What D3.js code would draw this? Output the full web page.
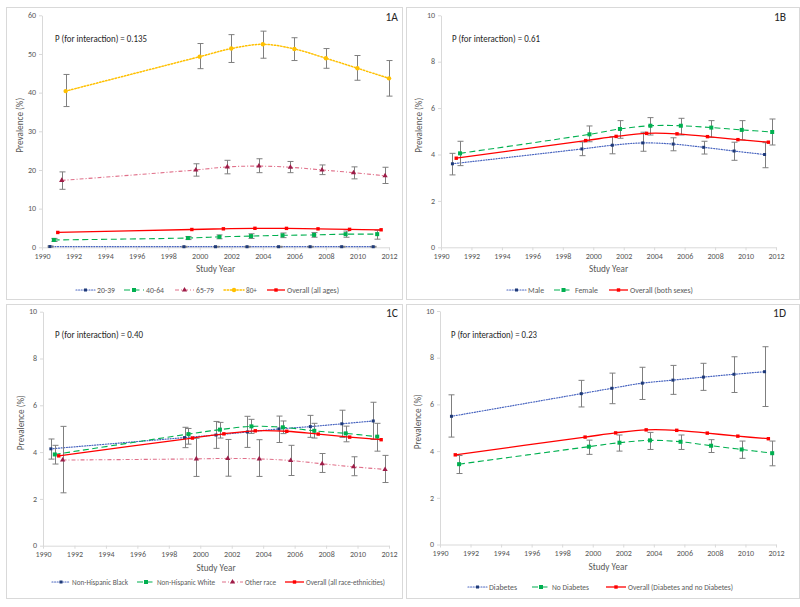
<!DOCTYPE html>
<html><head><meta charset="utf-8">
<script src="https://cdn.jsdelivr.net/npm/d3@7/dist/d3.min.js"></script>
<style>
body{margin:0;background:#fff}
svg{display:block}
text{font-family: Carlito, Lato, 'Open Sans', sans-serif}
</style>
</head><body>
<svg id="c" width="800" height="607"></svg>
<script>
// ---------------- DATA ----------------
const xTickYears = [1990,1992,1994,1996,1998,2000,2002,2004,2006,2008,2010,2012];
const yTicksA = [0,10,20,30,40,50,60];
const yTicksBCD = [0,2,4,6,8,10];

// Overall (all panels)
const overallYears = [1991,1999.5,2001.5,2003.5,2005.5,2007.5,2009.5,2011.5];
const overallVals  = [3.84,4.60,4.78,4.91,4.89,4.77,4.64,4.53];

// Series x positions (offset around each survey cycle)
const yearsA = [1990.5,1999,2001,2003,2005,2007,2009,2011];
const yearsB = [1990.75,1999.25,2001.25,2003.25,2005.25,2007.25,2009.25,2011.25];
const yearsC = [1991.25,1999.75,2001.75,2003.75,2005.75,2007.75,2009.75,2011.75];
const yearsD = [1991.5,2000,2002,2004,2006,2008,2010,2012];

// Panel 1A: age groups
const age20_39   = [0.2,0.15,0.15,0.15,0.15,0.15,0.15,0.15];
const age20_39Lo = [0.05,0.05,0.05,0.05,0.05,0.05,0.05,0.05];
const age20_39Hi = [0.35,0.25,0.25,0.25,0.25,0.25,0.25,0.25];
const age40_64   = [1.9,2.4,2.7,2.9,3.1,3.2,3.4,3.4];
const age40_64Lo = [1.5,2.0,2.2,2.3,2.5,2.6,2.6,2.1];
const age40_64Hi = [2.3,2.8,3.2,3.5,3.7,3.8,4.2,4.4];
const age65_79   = [17.3,20.0,20.8,21.0,20.7,20.0,19.3,18.5];
const age65_79Lo = [15.0,18.4,19.0,19.3,19.3,18.8,17.7,16.5];
const age65_79Hi = [19.5,21.6,22.5,22.9,22.2,21.3,20.8,20.7];
const age80      = [40.4,49.3,51.4,52.5,51.3,48.9,46.3,43.7];
const age80Lo    = [36.4,46.2,47.8,48.9,48.3,46.3,43.2,39.1];
const age80Hi    = [44.7,52.7,55.0,55.9,54.2,51.4,49.6,48.3];

// Panel 1B: sex
const male     = [3.60,4.24,4.40,4.50,4.45,4.31,4.15,4.00];
const maleLo   = [3.12,3.95,4.03,4.14,4.16,4.02,3.75,3.43];
const maleHi   = [4.05,4.54,4.77,4.96,4.72,4.57,4.53,4.51];
const female   = [4.05,4.87,5.10,5.24,5.24,5.16,5.06,4.97];
const femaleLo = [3.52,4.55,4.70,4.84,4.84,4.74,4.63,4.41];
const femaleHi = [4.57,5.23,5.46,5.59,5.56,5.46,5.46,5.53];

// Panel 1C: race-ethnicity
const nhBlack   = [4.14,4.62,4.73,4.86,4.99,5.09,5.21,5.33];
const nhBlackLo = [3.70,4.19,4.16,4.20,4.41,4.63,4.63,4.54];
const nhBlackHi = [4.56,5.06,5.31,5.53,5.54,5.57,5.79,6.13];
const nhWhite   = [3.90,4.77,4.96,5.10,5.06,4.91,4.80,4.66];
const nhWhiteLo = [3.49,4.34,4.60,4.80,4.79,4.60,4.44,4.04];
const nhWhiteHi = [4.29,5.01,5.27,5.40,5.33,5.23,5.11,5.23];
const otherRace   = [3.66,3.71,3.73,3.71,3.64,3.50,3.37,3.26];
const otherRaceLo = [2.26,2.96,2.97,2.96,3.00,3.13,2.99,2.70];
const otherRaceHi = [5.10,4.59,4.54,4.53,4.29,3.94,3.80,3.86];

// Panel 1D: diabetes
const diabetes     = [5.49,6.46,6.69,6.91,7.04,7.17,7.29,7.40];
const diabetesLo   = [4.60,5.89,6.03,6.21,6.43,6.60,6.51,5.91];
const diabetesHi   = [6.41,7.03,7.34,7.59,7.67,7.76,8.04,8.47];
const noDiabetes   = [3.44,4.19,4.36,4.46,4.40,4.23,4.07,3.91];
const noDiabetesLo = [3.04,3.86,4.00,4.07,4.07,3.94,3.69,3.37];
const noDiabetesHi = [3.81,4.47,4.69,4.80,4.69,4.49,4.43,4.43];

// ---------------- STYLES ----------------
const sBlue   = {line:'#4a66c0', dash:'1,1.6', w:1.2, cap:'round', shape:'square', mc:'#1f3a78', ms:3};
const sGreen  = {line:'#00b050', dash:'6,3.5', w:1.1, cap:'butt', shape:'square', mc:'#00b050', ms:4};
const sPink   = {line:'#e0708a', dash:'4,2,1,2', w:1.1, cap:'butt', shape:'triangle', mc:'#9e1c48', ms:4};
const sYellow = {line:'#ffc000', dash:'1.4,1.8', w:1.5, cap:'round', shape:'circle', mc:'#ffc000', ms:4.4};
const sRed    = {line:'#ff0000', dash:null, w:1.3, cap:'butt', shape:'square', mc:'#ff0000', ms:3.4};

function ser(name, xs, vals, lo, hi, st){ return {name, xs, vals, lo, hi, st}; }

// legend layout per panel: [sample start x, text start x, text end x] per item
const panels = [
  {label:'1A', box:[6,7,403,300], xr:[42,389], yr:[247.3,15.3], ymax:60, yticks:yTicksA,
   p:'P (for interaction) = 0.135', pW:92, pxy:[55,42], labXY:[398,21], titleY:272, legY:290,
   leg:[[76,97,115],[124,146,164],[175,196,214],[224,246,257],[267,287,339]],
   series:[ser('20-39',yearsA,age20_39,age20_39Lo,age20_39Hi,sBlue),
           ser('40-64',yearsB,age40_64,age40_64Lo,age40_64Hi,sGreen),
           ser('65-79',yearsC,age65_79,age65_79Lo,age65_79Hi,sPink),
           ser('80+',yearsD,age80,age80Lo,age80Hi,sYellow),
           ser('Overall (all ages)',overallYears,overallVals,null,null,sRed)]},
  {label:'1B', box:[406,7,800,300], xr:[441,776], yr:[247.3,15.3], ymax:10, yticks:yTicksBCD,
   p:'P (for interaction) = 0.61', pW:88, pxy:[452,42], labXY:[786,21], titleY:272, legY:290,
   leg:[[507,528,544],[554,575,598],[609,630,693]],
   series:[ser('Male',yearsB,male,maleLo,maleHi,sBlue),
           ser('Female',yearsC,female,femaleLo,femaleHi,sGreen),
           ser('Overall (both sexes)',overallYears,overallVals,null,null,sRed)]},
  {label:'1C', box:[6,304,403,599], xr:[43,389], yr:[545.7,311.7], ymax:10, yticks:yTicksBCD,
   p:'P (for interaction) = 0.40', pW:88, pxy:[55,338], labXY:[398,317], titleY:571, legY:582,
   leg:[[52,72,128],[137,157,215],[222,245,276],[285,306,385]],
   series:[ser('Non-Hispanic Black',yearsA,nhBlack,nhBlackLo,nhBlackHi,sBlue),
           ser('Non-Hispanic White',yearsB,nhWhite,nhWhiteLo,nhWhiteHi,sGreen),
           ser('Other race',yearsC,otherRace,otherRaceLo,otherRaceHi,sPink),
           ser('Overall (all race-ethnicities)',overallYears,overallVals,null,null,sRed)]},
  {label:'1D', box:[406,304,800,599], xr:[440,776], yr:[544.5,311], ymax:10, yticks:yTicksBCD,
   p:'P (for interaction) = 0.23', pW:86, pxy:[451,338], labXY:[786,317], titleY:570, legY:587,
   leg:[[468,489,517],[532,552,589],[606,628,733]],
   series:[ser('Diabetes',yearsB,diabetes,diabetesLo,diabetesHi,sBlue),
           ser('No Diabetes',yearsC,noDiabetes,noDiabetesLo,noDiabetesHi,sGreen),
           ser('Overall (Diabetes and no Diabetes)',overallYears,overallVals,null,null,sRed)]}
];

// ---------------- DRAW ----------------
const svg = d3.select('#c');
const AX = '#d9d9d9', TXT = '#595959';

function marker(g, shape, cx, cy, size, color){
  if(shape==='circle'){
    g.append('circle').attr('cx',cx).attr('cy',cy).attr('r',size/2).attr('fill',color);
  } else if(shape==='triangle'){
    const sym = d3.symbol().type(d3.symbolTriangle).size(size*size*0.75);
    g.append('path').attr('d',sym()).attr('transform',`translate(${cx},${cy})`).attr('fill',color);
  } else {
    g.append('rect').attr('x',cx-size/2).attr('y',cy-size/2).attr('width',size).attr('height',size).attr('fill',color);
  }
}

function fitText(t, w){
  const n = t.node().getComputedTextLength();
  if(n > w) t.attr('textLength', w).attr('lengthAdjust','spacingAndGlyphs');
}

panels.forEach(P=>{
  const g = svg.append('g');
  const [bx0,by0,bx1,by1] = P.box;
  g.append('rect').attr('x',bx0+0.5).attr('y',by0+0.5).attr('width',bx1-bx0-1).attr('height',by1-by0-1)
    .attr('fill','#fff').attr('stroke',AX).attr('stroke-width',1);

  const x = d3.scaleLinear().domain([1990,2012]).range(P.xr);
  const y = d3.scaleLinear().domain([0,P.ymax]).range(P.yr);

  // axes
  const ya = g.append('g').attr('transform',`translate(${P.xr[0]},0)`)
    .call(d3.axisLeft(y).tickValues(P.yticks).tickSize(3).tickSizeOuter(0).tickPadding(3));
  const xa = g.append('g').attr('transform',`translate(0,${P.yr[0]})`)
    .call(d3.axisBottom(x).tickValues(xTickYears).tickFormat(d3.format('d')).tickSize(3).tickSizeOuter(0).tickPadding(3));
  [ya,xa].forEach(a=>{
    a.select('.domain').attr('stroke',AX);
    a.selectAll('.tick line').attr('stroke',AX);
    a.selectAll('.tick text').attr('fill',TXT).style('font-size','8px')
      .style('font-family',"Carlito, Lato, sans-serif");
  });
  ya.selectAll('.tick text').attr('dy','0.28em');

  // axis titles
  g.append('text').attr('x',(P.xr[0]+P.xr[1])/2).attr('y',P.titleY).attr('text-anchor','middle')
    .attr('fill',TXT).style('font-size','9.2px').text('Study Year');
  const ymid = (P.yr[0]+P.yr[1])/2 - 6;
  g.append('text').attr('transform',`translate(${P.xr[0]-19},${ymid}) rotate(-90)`).attr('text-anchor','middle')
    .attr('fill',TXT).style('font-size','9.2px').text('Prevalence (%)');

  // P text and panel label
  g.append('text').attr('x',P.pxy[0]).attr('y',P.pxy[1]).attr('fill','#262626').style('font-size','10.5px')
    .attr('textLength',P.pW).attr('lengthAdjust','spacingAndGlyphs').text(P.p);
  g.append('text').attr('x',P.labXY[0]).attr('y',P.labXY[1]).attr('text-anchor','end').attr('fill','#262626')
    .style('font-size','11.5px').text(P.label);

  const line = d3.line().x(d=>x(d[0])).y(d=>y(d[1])).curve(d3.curveCatmullRom.alpha(0.5));

  P.series.forEach(S=>{
    const pts = S.xs.map((xx,i)=>[xx,S.vals[i]]);
    const st = S.st;
    g.append('path').attr('d',line(pts)).attr('fill','none').attr('stroke',st.line)
      .attr('stroke-width',st.w).attr('stroke-dasharray',st.dash).attr('stroke-linecap',st.cap);
    if(S.lo){
      const eb = g.append('g').attr('stroke','#7f7f7f').attr('stroke-width',1);
      S.xs.forEach((xx,i)=>{
        const cx = Math.round(x(xx))+0.5, y0 = y(S.lo[i]), y1 = y(S.hi[i]);
        eb.append('line').attr('x1',cx).attr('x2',cx).attr('y1',y0).attr('y2',y1);
        eb.append('line').attr('x1',cx-3).attr('x2',cx+3).attr('y1',y0).attr('y2',y0);
        eb.append('line').attr('x1',cx-3).attr('x2',cx+3).attr('y1',y1).attr('y2',y1);
      });
    }
    const mg = g.append('g');
    pts.forEach(p=>marker(mg, st.shape, x(p[0]), y(p[1]), st.ms, st.mc));
  });

  // legend
  const lg = g.append('g');
  P.series.forEach((S,i)=>{
    const [sx, tx, te] = P.leg[i];
    const st = S.st;
    const sw = tx - sx - 2;
    lg.append('line').attr('x1',sx).attr('x2',sx+sw).attr('y1',P.legY).attr('y2',P.legY)
      .attr('stroke',st.line).attr('stroke-width',st.w).attr('stroke-dasharray',st.dash).attr('stroke-linecap',st.cap);
    marker(lg, st.shape, sx+sw/2, P.legY, st.ms, st.mc);
    const t = lg.append('text').attr('x',tx).attr('y',P.legY+3.2).attr('fill',TXT)
      .style('font-size','8.6px').text(S.name);
    fitText(t, te-tx);
  });
});
</script>
</body></html>
